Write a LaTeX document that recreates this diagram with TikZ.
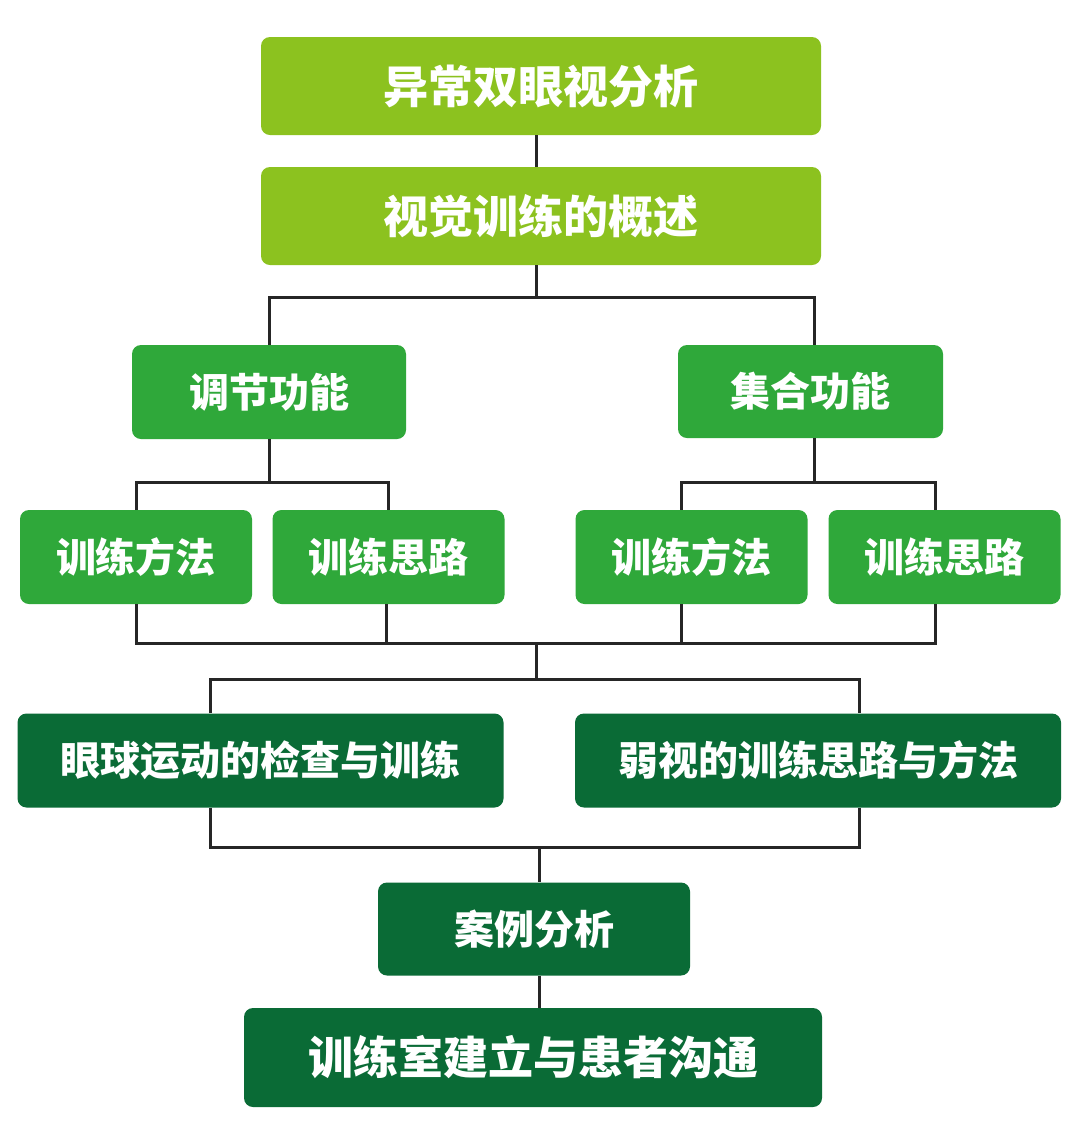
\documentclass[tikz,border=0pt]{standalone}
\usepackage{fontspec}
\newfontfamily\cjk{Noto Sans CJK SC}
\definecolor{lg}{HTML}{8CC21F}
\definecolor{mg}{HTML}{2FA83A}
\definecolor{dg}{HTML}{0A6B36}
\tikzset{
  box/.style={rectangle, rounded corners=9pt, text=white, inner sep=0pt,
    font=\cjk\bfseries\fontsize{40}{40}\selectfont},
  big/.style={font=\cjk\bfseries\fontsize{45}{45}\selectfont},
  conn/.style={draw=black!85, line width=3pt}
}
\begin{document}
\begin{tikzpicture}[x=1pt,y=-1pt]
\fill[white] (0,0) rectangle (1080,1128);
\useasboundingbox (0,0) rectangle (1080,1128);

% nodes
\node[box, big, fill=lg, minimum width=560pt, minimum height=98pt] (b1) at (541,86) {异常双眼视分析};
\node[box, big, fill=lg, minimum width=560pt, minimum height=98pt] (b2) at (541,216) {视觉训练的概述};
\node[box, fill=mg, minimum width=274pt, minimum height=94pt] (b3) at (269,392) {调节功能};
\node[box, fill=mg, minimum width=265pt, minimum height=93pt] (b4) at (810.5,391.5) {集合功能};
\node[box, fill=mg, minimum width=232pt, minimum height=94pt] (b5) at (136,557) {训练方法};
\node[box, fill=mg, minimum width=232pt, minimum height=94pt] (b6) at (388.5,557) {训练思路};
\node[box, fill=mg, minimum width=232pt, minimum height=94pt] (b7) at (691.5,557) {训练方法};
\node[box, fill=mg, minimum width=232pt, minimum height=94pt] (b8) at (944.5,557) {训练思路};
\node[box, fill=dg, minimum width=486pt, minimum height=94pt] (b9) at (260.5,760.5) {眼球运动的检查与训练};
\node[box, fill=dg, minimum width=486pt, minimum height=94pt] (b10) at (818,760.5) {弱视的训练思路与方法};
\node[box, fill=dg, minimum width=312pt, minimum height=93pt] (b11) at (534,929) {案例分析};
\node[box, big, fill=dg, minimum width=578pt, minimum height=99pt] (b12) at (533,1057.5) {训练室建立与患者沟通};

% junction coordinates
\coordinate (xA) at (536,0);
\coordinate (j1) at (536,297);
\coordinate (j2) at (269,482);
\coordinate (j3) at (814,482);
\coordinate (x6) at (386,0);
\coordinate (x7) at (681,0);
\coordinate (x8) at (935,0);
\coordinate (j4) at (536,643);
\coordinate (j5) at (536,679);
\coordinate (x9) at (210,0);
\coordinate (x10) at (859,0);
\coordinate (j6) at (539,847);

% connectors
\draw[conn] (b1.south -| xA) -- (b2.north -| xA);
\draw[conn] (b2.south -| xA) -- (j1);
\draw[conn] (b3.north) |- (j1) -| (b4.north -| j3);
\draw[conn] (b3.south) -- (j2);
\draw[conn] (b5.north) |- (j2) -| (b6.north);
\draw[conn] (b4.south -| j3) -- (j3);
\draw[conn] (b7.north -| x7) |- (j3) -| (b8.north -| x8);
\draw[conn] (b5.south) |- (j4) -| (b8.south -| x8);
\draw[conn] (b6.south -| x6) -- (x6 |- j4);
\draw[conn] (b7.south -| x7) -- (x7 |- j4);
\draw[conn] (j4) -- (j5);
\draw[conn] (b9.north -| x9) |- (j5) -| (b10.north -| x10);
\draw[conn] (b9.south -| x9) |- (j6) -| (b10.south -| x10);
\draw[conn] (j6) -- (b11.north -| j6);
\draw[conn] (b11.south -| j6) -- (b12.north -| j6);
\end{tikzpicture}
\end{document}
